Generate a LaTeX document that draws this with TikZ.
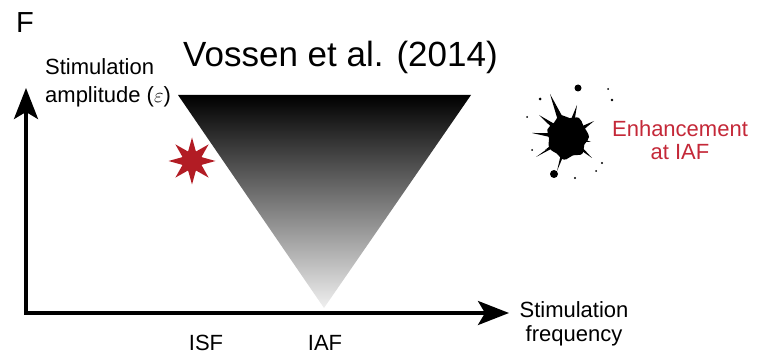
\documentclass[tikz,border=0pt]{standalone}
\usepackage{fontspec}
\setmainfont{Liberation Sans}
\usetikzlibrary{arrows.meta,shapes.geometric,calc}
\definecolor{markred}{RGB}{178,28,36}
\definecolor{labelred}{RGB}{196,40,56}
\begin{document}
\begin{tikzpicture}[x=1pt,y=-1pt,
  axisline/.style={line width=3.5pt, line join=miter,
    {Stealth[length=31pt,width=24pt,inset=7pt]}-{Stealth[length=31pt,width=24pt,inset=7pt]}},
  axislabel/.style={font=\fontsize{22}{24}\selectfont, inner sep=0pt},
  panel/.style={font=\fontsize{29}{32}\selectfont, inner sep=0pt},
  titletext/.style={font=\fontsize{35}{40}\selectfont, inner sep=0pt}]
\useasboundingbox (0,0) rectangle (757,355);

% panel letter and title
\node[panel, anchor=base west] (F) at (16,33) {F};
\node[titletext, anchor=base west] (title) at (183,67) {Vossen et al. (2014)};

% axes
\coordinate (ytip) at (26,88);
\coordinate (xtip) at (509,313);
\draw[axisline] (ytip) |- (xtip);

% axis labels
\node[axislabel, anchor=north west, align=left, font=\fontsize{22}{28}\selectfont]
  (ylab) at (45,58) {Stimulation\\amplitude ($\varepsilon$)};
\node[axislabel, anchor=north, align=center] (xlab) at (574,301) {Stimulation\\frequency};
\node[axislabel, anchor=base] (isf) at (206,350) {ISF};
\node[axislabel, anchor=base] (iaf) at (325,350) {IAF};

% shaded response region
\coordinate (tl) at (178,95);
\coordinate (tr) at (471,95);
\coordinate (apex) at (324,308);
\shade[top color=black, bottom color=black!6] (tl) -- (tr) -- (apex) -- cycle;

% marker at the stimulation frequency
\node[star, star points=8, star point ratio=2.3, minimum size=47pt,
  inner sep=0pt, fill=markred] (star) at (192,161) {};

% ink splat: a lumpy body, tapered streaks and scattered droplets
\coordinate (splat) at (568,137);
\fill[black, shift={(568,137)}] plot[smooth cycle, tension=0.7] coordinates {
  (0:21) (25:18) (50:22) (75:19) (100:23) (125:20) (150:22) (175:19)
  (200:22) (225:20) (250:23) (275:19) (300:22) (325:19)};
\foreach \tx/\ty/\w in {550/94/5pt, 539/115/4.5pt, 532/133/4pt, 536/157/2.5pt,
    594/121/4.5pt, 577/105/4pt, 592/158/3.5pt, 557/171/3pt, 591/142/4pt,
    545/150/4pt, 585/128/4pt, 560/117/4pt}
  \fill[black] (splat) -- ($(splat)!\w!90:(\tx,\ty)$) -- (\tx,\ty)
    -- ($(splat)!\w!-90:(\tx,\ty)$) -- cycle;
\fill[black] (578,88) circle (3.5pt);
\fill[black] (554,174) circle (4pt);
\fill[black] (540,99) circle (1.5pt);
\fill[black] (612,100) circle (1.3pt);
\fill[black] (608,89) circle (1pt);
\fill[black] (575,178) circle (1.2pt);
\fill[black] (602,163) circle (1.2pt);
\fill[black] (596,171) circle (1pt);
\fill[black] (527,117) circle (1pt);
\fill[black] (532,150) circle (1pt);

% result label
\node[axislabel, anchor=north, align=center, text=labelred,
  font=\fontsize{22}{23}\selectfont] (enh) at (680,120) {Enhancement\\at IAF};
\end{tikzpicture}
\end{document}
